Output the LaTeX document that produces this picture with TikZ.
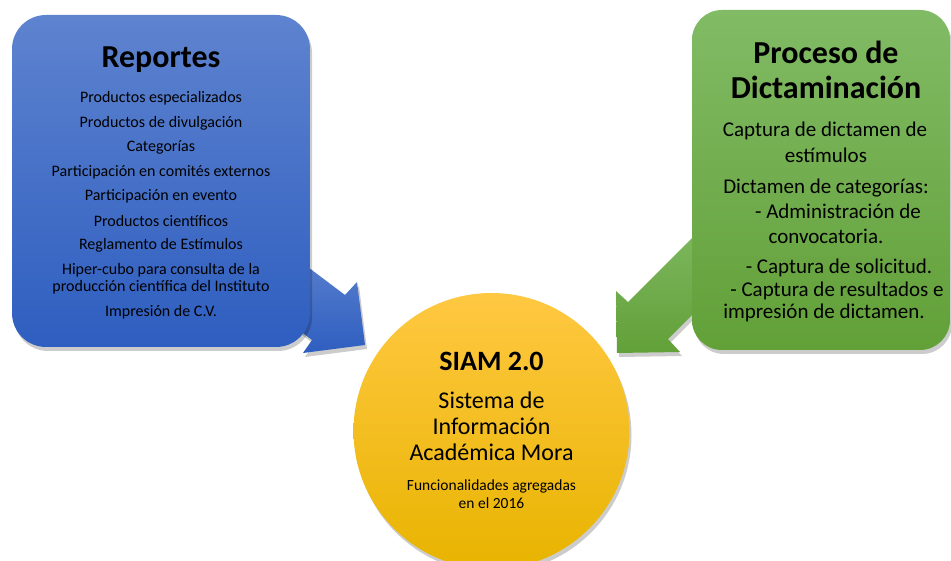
\documentclass[tikz,border=0pt]{standalone}
\usepackage{fontspec}
\setmainfont{Carlito}
\usetikzlibrary{shadows}
\definecolor{blueT}{RGB}{94,131,207}
\definecolor{blueB}{RGB}{46,94,192}
\definecolor{greenT}{RGB}{129,187,101}
\definecolor{greenB}{RGB}{98,160,56}
\definecolor{goldT}{RGB}{255,200,66}
\definecolor{goldM}{RGB}{255,193,0}
\definecolor{goldB}{RGB}{232,180,0}
\tikzset{
  shad/.style={drop shadow={opacity=0.2, shadow xshift=2pt, shadow yshift=-4pt, fill=black}},
  bluefill/.style={top color=blueT, bottom color=blueB},
  greenfill/.style={top color=greenT, bottom color=greenB},
  ttl/.style={font=\fontsize{32}{35}\selectfont\bfseries, align=center, inner sep=0},
  itm/.style={font=\fontsize{16}{17.5}\selectfont, align=center, inner sep=0},
  gitm/.style={font=\fontsize{21}{23.5}\selectfont, inner sep=0},
}
\begin{document}
\begin{tikzpicture}[x=1pt,y=-1pt]
\useasboundingbox (0,0) rectangle (951,561);
% arrows (behind boxes)
\path[bluefill, shad] (280,246) -- (345,295) -- (357,282) -- (365,345) -- (303,353) -- (312,340) -- (246,290) -- cycle;
\path[greenfill, shad] (720,210) -- (628,302) -- (616,291) -- (617,353) -- (680,352) -- (668,339) -- (720,287) -- cycle;
% boxes
\node[bluefill, shad, rounded corners=34pt, minimum width=298pt, minimum height=332pt, inner sep=0] (rep) at (161,181) {};
\node[greenfill, shad, rounded corners=30pt, minimum width=258pt, minimum height=340pt, inner sep=0] (dic) at (821,180) {};
% circle
\node[circle, top color=goldT, middle color=goldM, bottom color=goldB, shad, minimum size=276pt, inner sep=0] (siam) at (491.5,431) {};
% Reportes texts
\node[ttl] (rt) at (161,60) {Reportes};
\node[itm] (r1) at (161,98) {Productos especializados};
\node[itm] (r2) at (161,123) {Productos de divulgación};
\node[itm] (r3) at (161,147) {Categorías};
\node[itm] (r4) at (161,172) {Participación en comités externos};
\node[itm] (r5) at (161,196) {Participación en evento};
\node[itm] (r6) at (161,221) {Productos científicos};
\node[itm] (r7) at (161,245) {Reglamento de Estímulos};
\node[itm] (r8) at (161,278.5) {Hiper-cubo para consulta de la\\producción científica del Instituto};
\node[itm] (r9) at (161,312) {Impresión de C.V.};
% Dictaminacion texts
\node[ttl] (dt) at (826,70) {Proceso de\\Dictaminación};
\node[gitm] (d1) at (825,131) {Captura de dictamen de};
\node[gitm] (d2) at (826,155) {estímulos};
\node[gitm] (d3) at (826,188) {Dictamen de categorías:};
\node[gitm] (d4) at (838,211) {- Administración de};
\node[gitm] (d5) at (826,236) {convocatoria.};
\node[gitm] (d6) at (839,268) {- Captura de solicitud.};
\node[gitm] (d7) at (837,291) {- Captura de resultados e};
\node[gitm] (d8) at (824,313) {impresión de dictamen.};
% SIAM texts
\node[font=\fontsize{28}{30}\selectfont\bfseries, inner sep=0] (s1) at (491.5,361) {SIAM 2.0};
\node[font=\fontsize{24}{26}\selectfont, align=center, inner sep=0] (s2) at (491.5,426) {Sistema de\\Información\\Académica Mora};
\node[font=\fontsize{15.5}{18}\selectfont, align=center, inner sep=0] (s3) at (491.5,494) {Funcionalidades agregadas\\en el 2016};
\end{tikzpicture}
\end{document}
